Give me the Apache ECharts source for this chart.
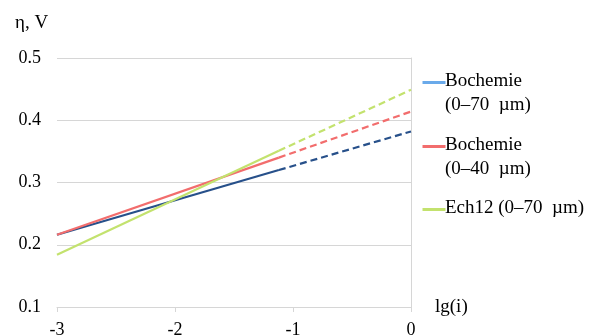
<!DOCTYPE html>
<html>
<head>
<meta charset="utf-8">
<script src="https://cdn.jsdelivr.net/npm/echarts@6/dist/echarts.min.js"></script>
<style>
  html, body { margin: 0; padding: 0; background: #fff; }
  #chart { width: 597px; height: 336px; }
</style>
</head>
<body>
<div id="chart"></div>
<script>
// lg(i) positions: start of measured range, end of measured range, extrapolated end
const lgStart = -3;
const lgBreak = -1.12;
const lgEnd = 0;

// overpotential η (V) at those three points
const bochemie70 = [0.216, 0.320, 0.382];
const bochemie40 = [0.216, 0.340, 0.414];
const ech12 = [0.184, 0.351, 0.449];

const seriesNames = ['Bochemie\n(0\u201370  \u00b5m)', 'Bochemie\n(0\u201340  \u00b5m)', 'Ech12 (0\u201370  \u00b5m)'];
const lineColors = ['#27508a', '#f26d6d', '#c3e26e'];
const legendColors = ['#6aaaea', '#f26d6d', '#c3e26e'];

const xTicks = { min: -3, max: 0, step: 1 };
const yTicks = { min: 0.1, max: 0.5, step: 0.1 };
const xTitle = 'lg(i)';
const yTitle = '\u03b7, V';

const FONT = '"Liberation Serif", "Times New Roman", serif';
const GRID_GRAY = '#d6d6d6';
const TEXT = '#000';

function solidPart(v) { return [[lgStart, v[0]], [lgBreak, v[1]]]; }
function dashedPart(v) { return [[lgBreak, v[1]], [lgEnd, v[2]]]; }

const allValues = [bochemie70, bochemie40, ech12];
const series = [];
allValues.forEach((v, i) => {
  series.push({
    type: 'line', name: seriesNames[i], data: solidPart(v),
    showSymbol: false, silent: true, z: 2 + i,
    lineStyle: { color: lineColors[i], width: 2.2 }
  });
  series.push({
    type: 'line', name: seriesNames[i] + ' trend', data: dashedPart(v),
    showSymbol: false, silent: true, z: 2 + i,
    lineStyle: { color: lineColors[i], width: 2.2, type: [7, 4] }
  });
});

// Legend drawn as line swatches with two-line labels
const legendTop = [81, 145, 208];
const graphics = [{
  type: 'text', left: 15, top: 14,
  style: { text: yTitle, font: '19px ' + FONT, fill: TEXT }
}];
seriesNames.forEach((name, i) => {
  graphics.push({
    type: 'line', left: 420, top: legendTop[i] - 1,
    shape: { x1: 0, y1: 0, x2: 23, y2: 0 },
    style: { stroke: legendColors[i], lineWidth: 3 }
  });
  graphics.push({
    type: 'text', left: 445, top: legendTop[i] - 12,
    style: { text: name, font: '19px ' + FONT, fill: TEXT, lineHeight: 24 }
  });
});

const chart = echarts.init(document.getElementById('chart'), null, { renderer: 'canvas' });
chart.setOption({
  animation: false,
  backgroundColor: '#fff',
  grid: { left: 57, right: 186, top: 58, bottom: 29, containLabel: false, outerBoundsMode: 'none' },
  xAxis: {
    type: 'value', min: xTicks.min, max: xTicks.max, interval: xTicks.step,
    name: xTitle, nameLocation: 'end', nameGap: 24,
    nameTextStyle: { fontFamily: FONT, fontSize: 19, color: TEXT, verticalAlign: 'middle' },
    axisLine: { show: true, onZero: false, lineStyle: { color: GRID_GRAY, width: 1 } },
    axisTick: { show: true, length: 5, lineStyle: { color: GRID_GRAY } },
    axisLabel: { fontFamily: FONT, fontSize: 18, color: TEXT, margin: 14 },
    splitLine: { show: false }
  },
  yAxis: {
    type: 'value', min: yTicks.min, max: yTicks.max, interval: yTicks.step,
    axisLine: { show: true, lineStyle: { color: GRID_GRAY, width: 1 } },
    axisTick: { show: true, length: 5, lineStyle: { color: GRID_GRAY } },
    axisLabel: { fontFamily: FONT, fontSize: 18, color: TEXT, margin: 16,
      formatter: v => v.toFixed(1) },
    splitLine: { show: true, lineStyle: { color: GRID_GRAY, width: 1 } }
  },
  graphic: graphics,
  series: series
});
</script>
</body>
</html>
